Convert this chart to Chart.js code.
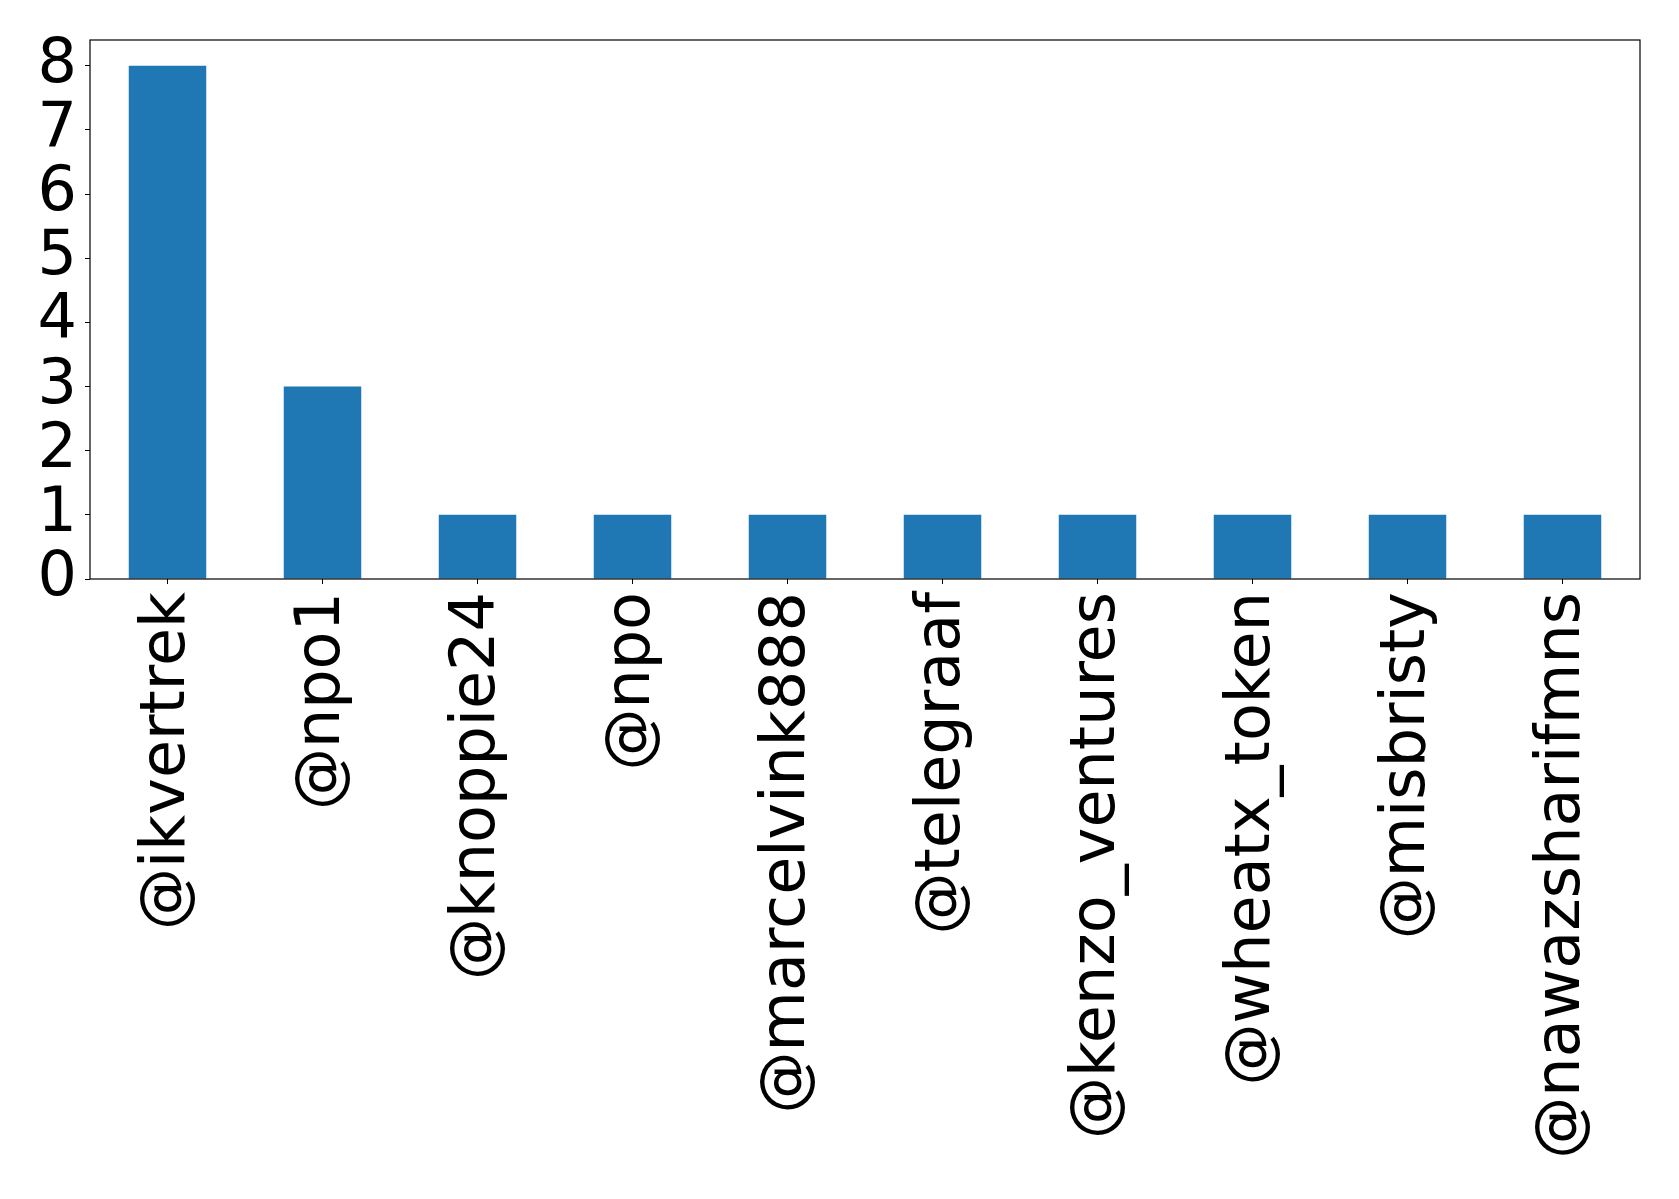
<!DOCTYPE html>
<html>
<head>
<meta charset="utf-8">
<script src="https://cdn.jsdelivr.net/npm/chart.js@4"></script>
<style>
  html, body { margin: 0; padding: 0; background: #fff; }
  #wrap { width: 1679px; height: 1199px; }
</style>
</head>
<body>
<div id="wrap"><canvas id="chart" width="1679" height="1199"></canvas></div>
<script>
const handles = ["@ikvertrek", "@npo1", "@knoppie24", "@npo", "@marcelvink888",
  "@telegraaf", "@kenzo_ventures", "@wheatx_token", "@misbristy", "@nawazsharifmns"];
const counts = [8, 3, 1, 1, 1, 1, 1, 1, 1, 1];
const yTicks = [0, 1, 2, 3, 4, 5, 6, 7, 8];

// frame round the plot area, like matplotlib's spines
const frame = {
  id: "frame",
  afterDraw(chart) {
    const a = chart.chartArea;
    const c = chart.ctx;
    c.save();
    c.strokeStyle = "#000";
    c.lineWidth = 1.2;
    c.strokeRect(a.left, a.top, a.right - a.left, a.bottom - a.top);
    c.restore();
  },
};

const ctx = document.getElementById("chart");
new Chart(ctx, {
  type: "bar",
  data: {
    labels: handles,
    datasets: [
      {
        data: counts,
        backgroundColor: "#1f77b4",
        borderWidth: 0,
        categoryPercentage: 1.0,
        barPercentage: 0.5,
      },
    ],
  },
  options: {
    responsive: false,
    animation: false,
    layout: { padding: { top: 40, right: 39, left: 0, bottom: 0 } },
    plugins: { legend: { display: false }, tooltip: { enabled: false } },
    scales: {
      x: {
        offset: true,
        grid: { display: true, drawOnChartArea: false, drawTicks: true, tickLength: 5, color: "#000", offset: false },
        border: { display: false },
        ticks: {
          color: "#000",
          font: { family: "DejaVu Sans", size: 62 },
          minRotation: 90,
          maxRotation: 90,
          autoSkip: false,
          padding: 8,
        },
        afterFit(scale) { scale.height = 620; },
      },
      y: {
        min: 0,
        max: 8.4,
        grid: { display: true, drawOnChartArea: false, drawTicks: true, tickLength: 5, color: "#000" },
        border: { display: false },
        afterBuildTicks(scale) { scale.ticks = yTicks.map((v) => ({ value: v })); },
        ticks: {
          color: "#000",
          font: { family: "DejaVu Sans", size: 62, lineHeight: 1 },
          autoSkip: false,
          padding: 8,
        },
        afterFit(scale) { scale.width = 90; },
      },
    },
  },
  plugins: [frame],
});
</script>
</body>
</html>
